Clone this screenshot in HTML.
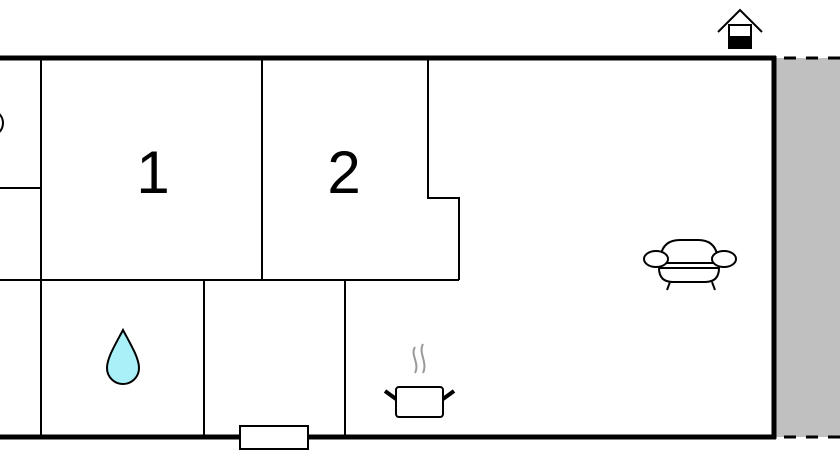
<!DOCTYPE html>
<html><head><style>html,body{margin:0;padding:0;background:#fff;width:840px;height:460px;overflow:hidden}</style></head>
<body>
<svg width="840" height="460" viewBox="0 0 840 460" xmlns="http://www.w3.org/2000/svg">
<rect x="776" y="58" width="64" height="379" fill="#c0c0c0"/>
<line x1="776" y1="58" x2="840" y2="58" stroke="#000" stroke-width="3" stroke-dasharray="12,10" stroke-dashoffset="-8"/>
<line x1="776" y1="437" x2="840" y2="437" stroke="#000" stroke-width="3" stroke-dasharray="12,10" stroke-dashoffset="-8"/>
<g stroke="#000" fill="none">
<line x1="0" y1="58" x2="776" y2="58" stroke-width="5"/>
<line x1="0" y1="437" x2="776" y2="437" stroke-width="5"/>
<line x1="774" y1="56" x2="774" y2="439" stroke-width="5"/>
<g stroke-width="2">
<line x1="41" y1="58" x2="41" y2="437"/>
<line x1="0" y1="188" x2="41" y2="188"/>
<line x1="0" y1="280" x2="459" y2="280"/>
<line x1="262" y1="58" x2="262" y2="280"/>
<polyline points="428,58 428,198 459,198 459,280"/>
<line x1="204" y1="280" x2="204" y2="437"/>
<line x1="345" y1="280" x2="345" y2="437"/>
<circle cx="-10" cy="123" r="13"/>
</g>
</g>
<rect x="240" y="426" width="68" height="23" fill="#fff" stroke="#000" stroke-width="2"/>
<text x="153" y="193" font-family="Liberation Sans, sans-serif" font-size="60" text-anchor="middle">1</text>
<text x="344" y="193" font-family="Liberation Sans, sans-serif" font-size="60" text-anchor="middle">2</text>
<path d="M123,330 C115,345 107,358 107,368 A16,16 0 0 0 139,368 C139,358 131,345 123,330 Z" fill="#aaf0f8" stroke="#000" stroke-width="2"/>
<g stroke="#999" stroke-width="2" fill="none">
<path d="M415,347 C410,355 420,363 415,373"/>
<path d="M423,344 C418,353 428,362 423,373"/>
</g>
<rect x="396" y="387" width="47" height="30" rx="3" fill="#fff" stroke="#000" stroke-width="2"/>
<line x1="385" y1="391" x2="396" y2="399" stroke="#000" stroke-width="4"/>
<line x1="454" y1="391" x2="443" y2="399" stroke="#000" stroke-width="4"/>
<g stroke="#000" stroke-width="2" fill="#fff">
<path d="M660,263 Q660,240 680,240 L698,240 Q718,240 718,263 Z"/>
<path d="M659,268 L719,268 Q719,282 705,282 L673,282 Q659,282 659,268 Z"/>
<ellipse cx="656" cy="259" rx="12" ry="8"/>
<ellipse cx="724" cy="259" rx="12" ry="8"/>
<line x1="670" y1="282" x2="667" y2="290"/>
<line x1="712" y1="282" x2="715" y2="290"/>
</g>
<g stroke="#000" stroke-width="2" fill="none">
<polyline points="718,32 740,10 762,32"/>
<rect x="729" y="25" width="22" height="22" fill="#fff"/>
</g>
<rect x="728" y="36" width="24" height="13" fill="#000"/>
</svg>
</body></html>
